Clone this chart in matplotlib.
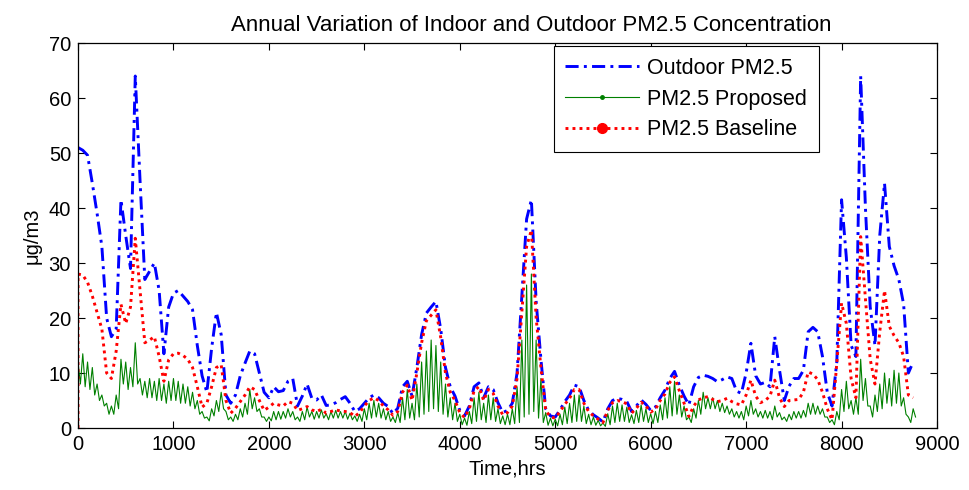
"""Annual variation of indoor and outdoor PM2.5 concentration."""
import matplotlib

matplotlib.use("Agg")

import matplotlib.pyplot as plt
import numpy as np
from matplotlib.lines import Line2D

# Sampling grid of the series, in hours (one value every 50 h).
HOUR_STEP = 50

OUTDOOR_PM25 = [
    51, 50.5, 49.6, 44.5, 39, 33, 20, 16.6, 18, 41.5,
    35, 29, 64, 45, 27, 28.5, 30, 25, 13.5, 22,
    24.5, 25, 24, 23, 21.5, 15, 9.5, 6.5, 14.5, 21,
    17, 6, 4.5, 6, 9.5, 11.8, 14, 13.5, 10, 6.5,
    5.5, 7.5, 6.6, 6.8, 8.5, 9, 4, 5.8, 8, 5.4,
    5.1, 6, 4.1, 4.2, 4.6, 5.2, 5.7, 4.5, 3, 3.5,
    4.5, 5.5, 6, 5.5, 4.5, 3.9, 2.6, 3.6, 7.5, 8.5,
    5.8, 11, 17, 20.9, 22, 23, 18, 11, 7.5, 5.8,
    3.2, 2.2, 4, 7.5, 8.2, 5.5, 7.5, 7, 4.6, 2.8,
    3.2, 4.5, 10, 24, 38, 41.5, 23, 12.5, 3.5, 2.2,
    2, 3.3, 4.8, 6, 7.8, 7.5, 5, 3.2, 2.4, 1.8,
    1.1, 3.5, 5, 5.4, 5.2, 4.8, 3, 4, 5.1, 4.3,
    3.2, 3.8, 5.5, 6.9, 9, 10.3, 7.8, 5.8, 4.2, 7.5,
    9.2, 9.6, 9.4, 9, 8.4, 8.8, 9.3, 9, 6.7, 6.3,
    10, 15.4, 9.5, 8, 8.3, 7.5, 16.6, 10.5, 5, 7.6,
    9, 9, 10.5, 17.5, 18.3, 17.5, 13, 6.5, 4, 12,
    41.5, 31, 15, 13, 64, 40, 22, 15, 35, 44.5,
    33, 29.5, 27, 22.5, 10, 12,
]

BASELINE_PM25 = [
    28, 27.8, 26.5, 24, 21, 18, 10, 9, 14, 22.5,
    19, 22, 34.5, 25, 15.5, 16, 16.6, 13, 8.5, 12.4,
    13.5, 13.6, 13.2, 12.5, 11, 7.5, 3.8, 4.5, 7.5, 11,
    11.5, 5, 2.7, 3.6, 4.8, 6, 7.5, 7, 5, 3.2,
    3.8, 4.5, 4.2, 4, 4.8, 4.5, 3.2, 3.5, 3.9, 3.3,
    3, 3.4, 2.7, 3, 3.3, 3.1, 3, 2.8, 2.1, 2.8,
    4, 5, 5.5, 5, 4, 3.3, 2.3, 3, 6.5, 7.8,
    5, 10, 15.5, 19.5, 20.5, 21.5, 16.5, 10, 6.5, 5,
    2.8, 1.9, 3.5, 6.8, 7.5, 5, 7, 6.3, 4, 2.4,
    2.8, 4, 9, 21, 33, 36, 20, 11, 3.2, 2,
    1.8, 3, 4.3, 5.4, 7, 7, 4.5, 3, 2.2, 1.6,
    1, 3.2, 4.6, 5, 4.8, 4.4, 2.7, 3.6, 4.7, 4,
    2.9, 3.4, 5, 6.2, 8.3, 9.3, 6.8, 4.5, 2.1, 4,
    5.1, 5.5, 5.7, 5.2, 4.8, 5, 5.4, 4.8, 4.4, 4.2,
    6, 8.7, 5.8, 4.6, 5, 5.8, 8.7, 5.5, 3.9, 5,
    5.1, 5.2, 6.5, 10.2, 9.8, 8.8, 6.5, 3.5, 1.5, 11.8,
    22.7, 19, 9, 5.5, 34.8, 23.5, 12.5, 8, 17.5, 25,
    18.5, 16.8, 15.5, 13, 6, 5.5,
]

# Proposed control: daily peak (at each grid hour) and trough 25 h later.
PROPOSED_HIGH = [
    12, 13.5, 12, 11, 8, 6, 4.5, 4, 6, 12.5,
    12, 11, 15.5, 9, 8.5, 9, 8.5, 9, 8, 8.5,
    9, 8.5, 8, 7.5, 6.5, 5, 3, 2, 3.5, 5,
    6.5, 3, 2, 2.5, 3.5, 4.5, 7, 5.5, 3.5, 2,
    2, 3, 3, 3, 3.5, 3, 2, 3, 3.8, 3,
    3, 3.3, 2.6, 3, 3.2, 3, 3, 2.7, 2.2, 2.5,
    3.5, 4.5, 5, 4.5, 3.5, 3, 2, 2.8, 5.5, 7,
    4.5, 8, 12, 14, 16, 15, 12, 8, 5.5, 4.5,
    2.5, 1.8, 3, 5.5, 6.5, 4.5, 6, 5.5, 3.5, 2.2,
    2.5, 3.5, 7.5, 16, 26, 28, 16, 9, 2.8, 1.8,
    1.6, 2.5, 3.8, 4.5, 6, 6, 4, 2.5, 2, 1.4,
    0.9, 2.6, 4, 4.5, 4.2, 3.8, 2.4, 3.2, 4.2, 3.5,
    2.6, 3, 4.2, 5.5, 7.5, 8.5, 6, 4, 2, 3.5,
    5, 6.5, 5.5, 5.5, 5, 4.5, 4, 3.5, 3, 3,
    4, 5, 3.5, 3, 3.2, 3, 4, 2.8, 2, 2.5,
    3, 3, 3.2, 4.5, 4.5, 4, 3.5, 2, 1.5, 3,
    7, 8.5, 5, 5.5, 12.5, 9, 4, 6, 8, 10,
    9, 10.5, 10, 5.5, 2, 3.5,
]

PROPOSED_LOW = [
    8, 7.5, 7, 6, 5, 4, 2.5, 2.5, 3.5, 8,
    7, 7.5, 8, 6, 5.5, 5.5, 5, 5, 4.5, 5,
    5, 4.5, 4.5, 4, 3.5, 2.5, 1.8, 1.3, 2.2, 3,
    3.5, 1.5, 1.2, 1.5, 2, 2.5, 3.5, 3, 2, 1.2,
    1.3, 1.5, 1.6, 1.8, 2, 1.5, 1.2, 1.5, 2, 1.6,
    1.8, 1.8, 1.5, 1.8, 1.8, 1.8, 1.6, 1.5, 1.2, 1.2,
    1.5, 1.8, 2, 1.8, 1.5, 1.2, 1, 1, 1.5, 1.8,
    1.5, 2, 2.5, 3, 3.5, 3, 2.5, 2, 1.5, 1.2,
    0.6, 0.5, 0.8, 1.2, 1.5, 1, 1.5, 1.2, 0.8, 0.6,
    0.6, 0.8, 1, 2, 2.5, 3, 1.8, 1, 0.5, 0.4,
    0.4, 0.6, 0.8, 1, 1.2, 1.2, 0.8, 0.6, 0.5, 0.4,
    0.3, 0.6, 1, 1.2, 1.2, 1, 0.8, 1, 1.2, 1,
    0.8, 1, 1.5, 1.8, 2.2, 2.5, 2, 1.5, 1, 1.8,
    2.5, 3.5, 3.5, 3.5, 3, 2.8, 2.5, 2, 1.8, 1.5,
    2.2, 2.5, 2, 1.8, 1.8, 1.5, 2, 1.5, 1.2, 1.5,
    1.8, 1.8, 2, 2.5, 2.5, 2.5, 2, 1, 0.6, 1.5,
    3, 3.5, 2.5, 2.5, 5, 4, 2, 3, 3.5, 4.5,
    4, 4.5, 4, 2.5, 1, 2,
]

# Both indoor simulations start from a clean room.
INDOOR_START = 0.0

X_TICKS = list(range(0, 9001, 1000))
Y_TICKS = list(range(0, 71, 10))

TITLE = "Annual Variation of Indoor and Outdoor PM2.5 Concentration"
X_LABEL = "Time,hrs"
Y_LABEL = "\u03bcg/m3"
LEGEND_LABELS = ["Outdoor PM2.5", "PM2.5 Proposed", "PM2.5 Baseline"]

BLUE = "#0000ff"
GREEN = "#008000"
RED = "#ff0000"

DASH_DOT = (0, (4.5, 1.8, 1.0, 1.8))
DOTTED = (0, (1.0, 1.4))


def main():
    plt.rcParams["font.family"] = ["Liberation Sans", "DejaVu Sans"]

    hours = np.arange(len(OUTDOOR_PM25)) * HOUR_STEP

    # Interleave daily peaks and troughs for the proposed series.
    prop_hours = np.empty(2 * len(hours))
    prop_hours[0::2] = hours
    prop_hours[1::2] = hours + HOUR_STEP / 2
    proposed = np.empty(2 * len(hours))
    proposed[0::2] = PROPOSED_HIGH
    proposed[1::2] = PROPOSED_LOW

    fig = plt.figure(figsize=(9.69, 4.90), dpi=100)
    ax = fig.add_axes([0.0805, 0.1265, 0.8865, 0.7857])

    ax.plot(hours, OUTDOOR_PM25, color=BLUE, linewidth=2.1, linestyle=DASH_DOT)
    ax.plot(np.r_[0, prop_hours], np.r_[INDOOR_START, proposed],
            color=GREEN, linewidth=0.8)
    ax.plot(np.r_[0, hours], np.r_[INDOOR_START, BASELINE_PM25],
            color=RED, linewidth=2.1, linestyle=DOTTED)

    ax.set_xlim(X_TICKS[0], X_TICKS[-1])
    ax.set_ylim(Y_TICKS[0], Y_TICKS[-1])
    ax.set_xticks(X_TICKS)
    ax.set_yticks(Y_TICKS)
    ax.tick_params(direction="in", top=True, right=True, length=5,
                   width=0.8, labelsize=14.5, pad=5)
    for spine in ax.spines.values():
        spine.set_linewidth(0.9)

    # The title sits slightly right of the axes centre in the source figure.
    ax.set_title(TITLE, fontsize=16, pad=9, x=0.528)
    ax.set_xlabel(X_LABEL, fontsize=14.5, labelpad=4)
    ax.set_ylabel(Y_LABEL, fontsize=14.5, labelpad=5)

    handles = [
        Line2D([], [], color=BLUE, linewidth=2.1, linestyle=DASH_DOT),
        Line2D([], [], color=GREEN, linewidth=0.8, marker=".", markersize=5),
        Line2D([], [], color=RED, linewidth=2.1, linestyle=DOTTED,
               marker=".", markersize=14),
    ]
    legend = ax.legend(handles, LEGEND_LABELS, loc="upper right",
                       bbox_to_anchor=(0.8626, 0.992), borderaxespad=0,
                       fontsize=15.5, frameon=True, fancybox=False,
                       edgecolor="black", framealpha=1, handlelength=3.4,
                       handletextpad=0.4, labelspacing=0.45, borderpad=0.55)
    legend.get_frame().set_linewidth(0.8)

    fig.savefig("out.png", dpi=100)
    plt.close(fig)


if __name__ == "__main__":
    main()
